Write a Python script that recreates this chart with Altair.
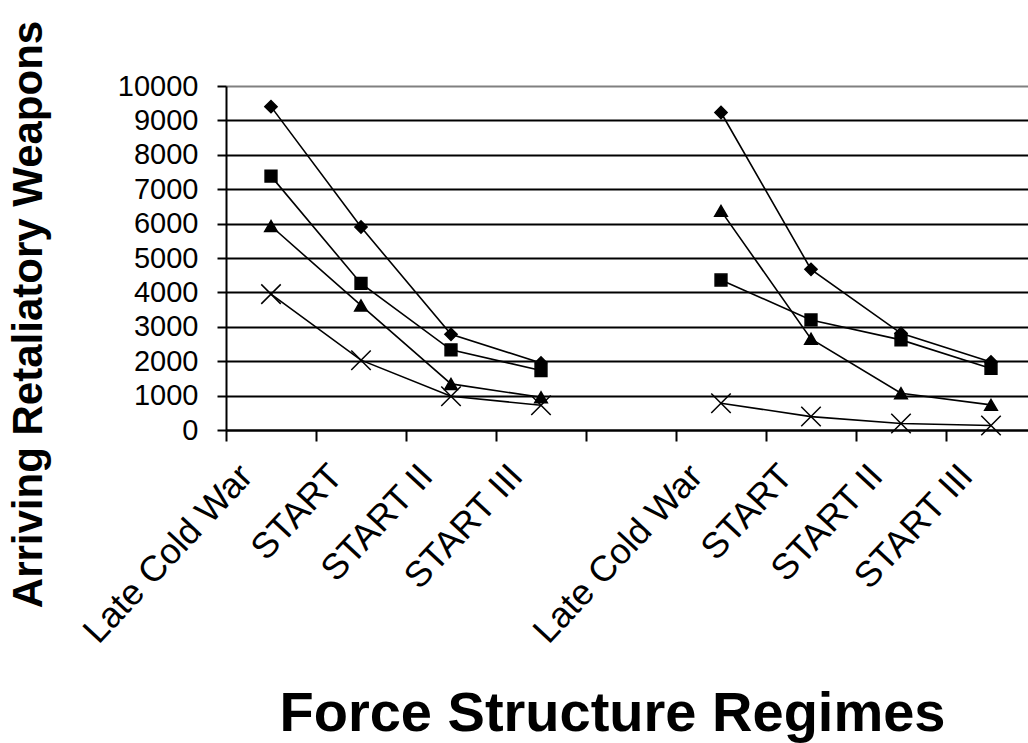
import altair as alt
import pandas as pd

# ---- data ----
regimes = ["Late Cold War", "START", "START II", "START III"]
groups = ["A", "B"]
series_names = ["Series 1", "Series 2", "Series 3", "Series 4"]

a_s1 = [9400, 5900, 2780, 1950]
a_s2 = [7380, 4260, 2330, 1730]
a_s3 = [5930, 3620, 1340, 950]
a_s4 = [3950, 2030, 980, 720]

b_s1 = [9230, 4670, 2810, 1980]
b_s2 = [4360, 3200, 2620, 1790]
b_s3 = [6370, 2650, 1070, 730]
b_s4 = [780, 390, 190, 130]

y_ticks = list(range(0, 10001, 1000))

x_domain = [f"A|{r}" for r in regimes] + ["gap|"] + [f"B|{r}" for r in regimes]

rows = []
group_values = {"A": [a_s1, a_s2, a_s3, a_s4], "B": [b_s1, b_s2, b_s3, b_s4]}
for g in groups:
    for s_name, vals in zip(series_names, group_values[g]):
        for i, (r, v) in enumerate(zip(regimes, vals)):
            rows.append({"cat": f"{g}|{r}", "group": g, "series": s_name,
                         "idx": i, "value": v})
df = pd.DataFrame(rows)

FONT = "Liberation Sans"

x_enc = alt.X(
    "cat:N",
    scale=alt.Scale(domain=x_domain, range=[0, 810], paddingInner=0, paddingOuter=0),
    sort=x_domain,
    axis=alt.Axis(
        title="Force Structure Regimes",
        labelExpr="split(datum.value, '|')[1]",
        labelAngle=-47,
        labelAlign="right",
        labelBaseline="middle",
        labelFontSize=36,
        labelFont=FONT,
        labelColor="black",
        labelOffset=-25,
        labelPadding=29,
        labelLimit=600,
        labelOverlap=False,
        labelBound=False,
        labelFlush=False,
        tickBand="extent",
        tickSize=11,
        tickColor="black",
        tickWidth=2,
        domainColor="black",
        domainWidth=2,
        grid=False,
        titleFont=FONT,
        titleFontSize=56,
        titleFontWeight="bold",
        titleColor="black",
        titleX=386,
        titleY=300,
        titleAlign="center",
        titleBaseline="alphabetic",
    ),
)

y_enc = alt.Y(
    "value:Q",
    scale=alt.Scale(domain=[0, 10000], nice=False),
    axis=alt.Axis(
        title="Arriving Retaliatory Weapons",
        values=y_ticks,
        format="d",
        grid=True,
        gridColor={"condition": {"test": "datum.value >= 10000", "value": "#808080"},
                   "value": "black"},
        gridWidth=2,
        gridOpacity=1,
        tickSize=9,
        tickColor="black",
        tickWidth=2,
        domainColor="black",
        domainWidth=2,
        labelFont=FONT,
        labelFontSize=29,
        labelColor="black",
        labelPadding=19,
        titleFont=FONT,
        titleFontSize=42,
        titleFontWeight="bold",
        titleColor="black",
        titleAngle=270,
        titleX=-198,
        titleY=228,
        titleAlign="center",
        titleBaseline="middle",
    ),
)

base = alt.Chart(df)

lines = base.mark_line(color="black", strokeWidth=1.6).encode(
    x=x_enc,
    y=y_enc,
    detail=["series:N", "group:N"],
    order=alt.Order("idx:Q"),
)

marker_shapes = ["diamond", "square", "triangle-up", "M-1,-1L1,1M-1,1L1,-1"]
marker_sizes = [150, 140, 160, 380]

point_layers = []
for s_name, shp, sz in zip(series_names, marker_shapes, marker_sizes):
    point_layers.append(
        base.transform_filter(alt.datum.series == s_name)
        .mark_point(shape=shp, size=sz, filled=True, fill="black", stroke="black",
                    strokeWidth=1.5, opacity=1)
        .encode(x=x_enc, y=y_enc)
    )

chart = (
    alt.layer(lines, *point_layers)
    .properties(
        width=802,
        height=344,
        autosize=alt.AutoSizeParams(type="none"),
        padding={"left": 226, "top": 86, "right": 0, "bottom": 313},
        background="white",
    )
    .configure_view(fill="#c0c0c0", stroke="transparent")
    .configure(font=FONT)
)

chart.save("out.html", embed_options={"renderer": "svg", "actions": False})
